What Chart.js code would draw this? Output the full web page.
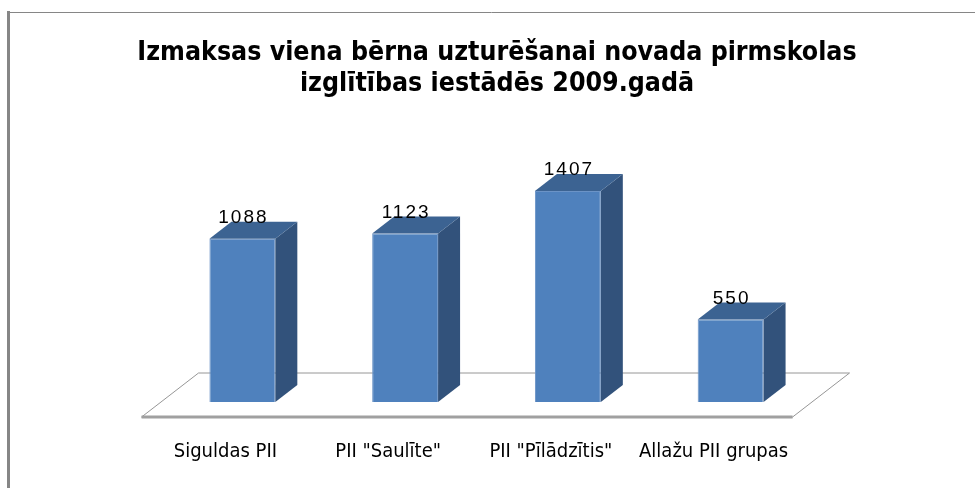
<!DOCTYPE html>
<html>
<head>
<meta charset="utf-8">
<script src="https://cdn.jsdelivr.net/npm/chart.js@4/dist/chart.umd.min.js"></script>
<style>
  body { margin: 0; background: #fff; }
  #wrap { width: 975px; height: 488px; position: relative; }
</style>
</head>
<body>
<div id="wrap"><canvas id="costChart"></canvas></div>
<script>
// ---------- DATA ----------
const categories = ["Siguldas PII", "PII \"Saulīte\"", "PII \"Pīlādzītis\"", "Allažu PII grupas"];
const costs = [1088, 1123, 1407, 550];
const titleLines = ["Izmaksas viena bērna uzturēšanai novada pirmskolas", "izglītības iestādēs 2009.gadā"];

// 3d depth of the bars (px)
const DEPTH_X = 22;
const DEPTH_Y = -17;
const narrowFont = "'Liberation Sans Narrow', 'DejaVu Sans Condensed', 'Liberation Sans', sans-serif";

// ---------- PLUGINS ----------
const frame = {
  id: "frame",
  beforeDraw(chart) {
    const ctx = chart.ctx;
    ctx.save();
    ctx.strokeStyle = "#868686";
    ctx.lineWidth = 1;
    ctx.beginPath();
    ctx.moveTo(8, 12.5);
    ctx.lineTo(975, 12.5);
    ctx.stroke();
    ctx.lineWidth = 3;
    ctx.beginPath();
    ctx.moveTo(8.5, 11);
    ctx.lineTo(8.5, 488);
    ctx.stroke();
    ctx.restore();
  }
};

const floor3d = {
  id: "floor3d",
  beforeDatasetsDraw(chart) {
    const ctx = chart.ctx;
    const x = chart.scales.x;
    const y0 = chart.scales.y.getPixelForValue(0);
    const k = DEPTH_X / DEPTH_Y;
    const fy = y0 + 15, by = y0 - 29;
    const fl = x.left + (fy - y0) * k, fr = x.right + (fy - y0) * k;
    const bl = x.left + (by - y0) * k, br = x.right + (by - y0) * k;
    ctx.save();
    ctx.fillStyle = "#fff";
    ctx.strokeStyle = "#969696";
    ctx.lineWidth = 1;
    ctx.beginPath();
    ctx.moveTo(fl, fy);
    ctx.lineTo(bl, by);
    ctx.lineTo(br, by);
    ctx.lineTo(fr, fy);
    ctx.closePath();
    ctx.fill();
    ctx.stroke();
    ctx.lineWidth = 3;
    ctx.strokeStyle = "#a0a0a0";
    ctx.beginPath();
    ctx.moveTo(fl, fy);
    ctx.lineTo(fr, fy);
    ctx.stroke();
    ctx.restore();
  }
};

const bars3d = {
  id: "bars3d",
  afterDatasetsDraw(chart) {
    const ctx = chart.ctx;
    const meta = chart.getDatasetMeta(0);
    ctx.save();
    meta.data.forEach((bar, i) => {
      const l = bar.x - bar.width / 2, r = bar.x + bar.width / 2;
      const t = bar.y, b = bar.base;
      // side
      ctx.fillStyle = "#32527b";
      ctx.beginPath();
      ctx.moveTo(r, t);
      ctx.lineTo(r + DEPTH_X, t + DEPTH_Y);
      ctx.lineTo(r + DEPTH_X, b + DEPTH_Y);
      ctx.lineTo(r, b);
      ctx.closePath();
      ctx.fill();
      // top
      ctx.fillStyle = "#3c6392";
      ctx.beginPath();
      ctx.moveTo(l, t);
      ctx.lineTo(l + DEPTH_X, t + DEPTH_Y);
      ctx.lineTo(r + DEPTH_X, t + DEPTH_Y);
      ctx.lineTo(r, t);
      ctx.closePath();
      ctx.fill();
      // value
      ctx.fillStyle = "#000";
      ctx.font = "19px 'Liberation Sans', sans-serif";
      ctx.letterSpacing = "2px";
      ctx.textAlign = "center";
      ctx.textBaseline = "alphabetic";
      ctx.fillText(String(costs[i]), bar.x + 1, t + DEPTH_Y + 1);
    });
    ctx.restore();
  }
};

// ---------- CHART ----------
new Chart(document.getElementById("costChart"), {
  type: "bar",
  data: {
    labels: categories,
    datasets: [{
      data: costs,
      backgroundColor: "#4f81bd",
      borderColor: "#6b93c6",
      borderWidth: 1,
      barPercentage: 0.405,
      categoryPercentage: 1
    }]
  },
  options: {
    responsive: true,
    maintainAspectRatio: false,
    animation: false,
    layout: { padding: { left: 19, right: 0, top: 0, bottom: 0 } },
    plugins: {
      legend: { display: false },
      tooltip: { enabled: false },
      title: {
        display: true,
        text: titleLines,
        color: "#000",
        font: { family: narrowFont, size: 26.5, weight: "bold", lineHeight: 1.17 },
        padding: { top: 37.5, bottom: 62.5 }
      }
    },
    scales: {
      x: {
        grid: { display: false, drawTicks: false },
        border: { display: false },
        ticks: {
          color: "#000",
          font: { family: narrowFont, size: 20 },
          padding: 38,
          labelOffset: -17,
          maxRotation: 0
        },
        afterFit(s) { s.height = 86; }
      },
      y: {
        min: 0,
        max: 1600,
        grid: { display: false },
        border: { display: false },
        ticks: { display: false },
        afterFit(s) { s.width = 142; }
      },
      y2: {
        position: "right",
        display: true,
        grid: { display: false },
        border: { display: false },
        ticks: { display: false },
        afterFit(s) { s.width = 163; }
      }
    }
  },
  plugins: [frame, floor3d, bars3d]
});
</script>
</body>
</html>
